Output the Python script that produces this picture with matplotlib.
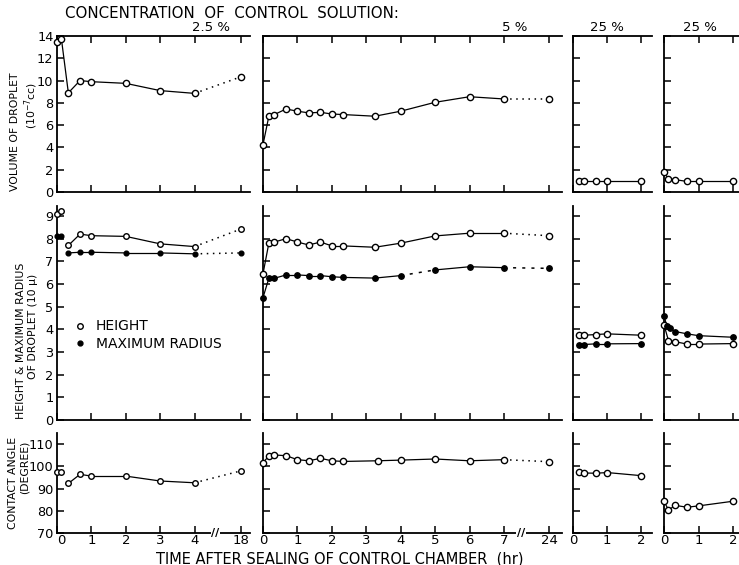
import matplotlib
matplotlib.use('Agg')
import matplotlib.pyplot as plt
import matplotlib.transforms as mtransforms
from matplotlib.lines import Line2D
import numpy as np

plt.rcParams['font.family'] = ['DejaVu Sans']

# ---------------- data ----------------
# Panel A: control solution 2.5 %  (time axis broken between 4 h and 18 h)
a_t = [0, 0.13, 0.33, 0.67, 1, 2, 3, 4, 18]
a_vol = [13.5, 13.7, 8.9, 10.0, 9.9, 9.75, 9.1, 8.85, 10.35]
a_height = [9.1, 9.2, 7.7, 8.2, 8.13, 8.1, 7.77, 7.65, 8.43]
a_radius = [8.1, 8.1, 7.37, 7.4, 7.4, 7.37, 7.37, 7.33, 7.37]
a_angle = [97.5, 97.5, 92.3, 96.4, 95.6, 95.6, 93.4, 92.6, 98.0]

# Panel B: control solution 5 %  (time axis broken between 7 h and 24 h)
b_t = [0, 0.17, 0.33, 0.67, 1, 1.33, 1.67, 2, 2.33, 3.25, 4, 5, 6, 7, 24]
b_vol = [4.25, 6.8, 6.95, 7.45, 7.25, 7.1, 7.15, 7.0, 6.95, 6.8, 7.25, 8.05, 8.55, 8.35, 8.35]
b_height = [6.45, 7.8, 7.85, 8.0, 7.85, 7.72, 7.85, 7.68, 7.68, 7.62, 7.8, 8.12, 8.24, 8.24, 8.13]
b_radius = [5.4, 6.25, 6.25, 6.4, 6.4, 6.37, 6.37, 6.32, 6.29, 6.26, 6.37, 6.62, 6.76, 6.72, 6.69]
b_angle_t = [0, 0.17, 0.33, 0.67, 1, 1.33, 1.67, 2, 2.33, 3.33, 4, 5, 6, 7, 24]
b_angle = [101.5, 104.8, 105.1, 104.8, 103.0, 102.5, 103.6, 102.5, 102.2, 102.5, 102.8, 103.3, 102.5, 103.0, 102.1]

# Panel C: control solution 25 %
c_t = [0.17, 0.33, 0.67, 1, 2]
c_vol = [0.95, 0.95, 0.95, 0.95, 0.95]
c_height = [3.74, 3.74, 3.77, 3.8, 3.74]
c_radius = [3.33, 3.33, 3.36, 3.36, 3.37]
c_angle = [97.3, 97.0, 96.9, 97.2, 95.8]

# Panel D: control solution 25 %
d_t = [0, 0.13, 0.33, 0.67, 1, 2]
d_vol = [1.8, 1.15, 1.1, 0.95, 0.95, 0.95]
d_height = [4.2, 3.5, 3.45, 3.35, 3.35, 3.37]
d_radius_t = [0, 0.08, 0.17, 0.33, 0.67, 1, 2]
d_radius = [4.6, 4.15, 4.05, 3.9, 3.8, 3.72, 3.65]
d_angle = [84.2, 80.4, 82.4, 81.6, 82.2, 84.3]

concentrations = ['2.5 %', '5 %', '25 %', '25 %']
a_xticks = [0, 1, 2, 3, 4, 18]
b_xticks = [0, 1, 2, 3, 4, 5, 6, 7, 24]
cd_xticks = [0, 1, 2]
vol_yticks = [0, 2, 4, 6, 8, 10, 12, 14]
hr_yticks = [0, 1, 2, 3, 4, 5, 6, 7, 8, 9]
ang_yticks = [70, 80, 90, 100, 110]

# ---------------- layout ----------------
W, H = 739, 565
fig = plt.figure(figsize=(W / 100, H / 100), dpi=100)

cols_px = [(57, 250), (263, 562), (573, 652), (664, 739)]
rows_px = [(36, 192), (206, 420), (433, 533)]


def add_ax(col, row):
    l, r = cols_px[col]
    t, b = rows_px[row]
    return fig.add_axes([l / W, 1 - b / H, (r - l) / W, (b - t) / H])


def broken_scale(last, k):
    def fwd(t):
        t = np.asarray(t, dtype=float)
        return np.where(t <= last, t, last + (t - last) * k)

    def inv(u):
        u = np.asarray(u, dtype=float)
        return np.where(u <= last, u, last + (u - last) / k)
    return fwd, inv


scaleA = broken_scale(4, 1.36 / 14)
scaleB = broken_scale(7, 1.31 / 17)
xlimA = (0, 20.6)
xlimB = (0, 28.9)

DOT = (0, (1, 3))
DASH = (0, (2, 4))


def draw(ax, t, y, filled, start=0, styles=None, ms=4.5):
    styles = styles or {}
    n = len(t)
    for i in range(start, n - 1):
        ls = styles.get(i, '-')
        lw = 1.1 if ls != '-' else 0.9
        ax.plot(t[i:i + 2], y[i:i + 2], color='black', lw=lw, linestyle=ls,
                clip_on=False, zorder=2)
    if filled:
        ax.plot(t, y, linestyle='none', marker='o', mfc='black', mec='black',
                ms=ms - 0.6, clip_on=False, zorder=3)
    else:
        ax.plot(t, y, linestyle='none', marker='o', mfc='white', mec='black',
                mew=1.0, ms=ms, clip_on=False, zorder=3)


axes = [[add_ax(c, r) for c in range(4)] for r in range(3)]

for r in range(3):
    for c in range(4):
        ax = axes[r][c]
        if c == 0:
            ax.set_xscale('function', functions=scaleA)
            ax.set_xlim(*xlimA)
            ax.set_xticks(a_xticks)
        elif c == 1:
            ax.set_xscale('function', functions=scaleB)
            ax.set_xlim(*xlimB)
            ax.set_xticks(b_xticks)
        elif c == 2:
            ax.set_xlim(0, 2.31)
            ax.set_xticks(cd_xticks)
        else:
            ax.set_xlim(0, 2.17)
            ax.set_xticks(cd_xticks)
        ax.xaxis.set_minor_locator(matplotlib.ticker.NullLocator())
        if r == 0:
            ax.set_ylim(0, 14)
            ax.set_yticks(vol_yticks)
        elif r == 1:
            ax.set_ylim(0, 9.44)
            ax.set_yticks(hr_yticks)
        else:
            ax.set_ylim(70, 115)
            ax.set_yticks(ang_yticks)
        ax.spines['right'].set_visible(False)
        ax.spines['top'].set_visible(r == 0)
        for s in ax.spines.values():
            s.set_linewidth(1.3)
        ax.tick_params(direction='in', length=5, width=1.1,
                       top=(r == 0), right=False,
                       labelbottom=(r == 2), labelleft=(c == 0))
        ax.tick_params(axis='x', labelsize=9.5, pad=1.0)
        ax.tick_params(axis='y', labelsize=9.3, pad=2.5)
        ax.patch.set_alpha(0)

# keep the first time label of panel A clear of the "70" angle label
fig.canvas.draw()
axes[2][0].get_xticklabels()[0].set_horizontalalignment('left')

# Row 0: volume
draw(axes[0][0], a_t, a_vol, False, styles={7: DOT})
draw(axes[0][1], b_t, b_vol, False, styles={13: DOT})
draw(axes[0][2], c_t, c_vol, False)
draw(axes[0][3], d_t, d_vol, False)

# Row 1: height (open) & maximum radius (filled)
draw(axes[1][0], a_t, a_height, False, start=2, styles={7: DOT}, ms=4.0)
draw(axes[1][0], a_t, a_radius, True, start=2, styles={7: DOT}, ms=4.0)
draw(axes[1][1], b_t, b_height, False, styles={13: DOT})
draw(axes[1][1], b_t, b_radius, True, styles={10: DASH, 13: DASH})
draw(axes[1][2], c_t, c_height, False)
draw(axes[1][2], c_t, c_radius, True)
draw(axes[1][3], d_t, d_height, False)
draw(axes[1][3], d_radius_t, d_radius, True)

# Row 2: contact angle
draw(axes[2][0], a_t, a_angle, False, start=2, styles={7: DOT}, ms=4.0)
draw(axes[2][1], b_angle_t, b_angle, False, styles={13: DOT})
draw(axes[2][2], c_t, c_angle, False)
draw(axes[2][3], d_t, d_angle, False)

# break marks on the bottom time axes
for ax, tb in ((axes[2][0], 10.2), (axes[2][1], 13.5)):
    trans = mtransforms.blended_transform_factory(ax.transData, ax.transAxes)
    ax.text(tb, 0.0, '//', transform=trans, ha='center', va='center',
            fontsize=8, fontweight='bold', clip_on=False,
            bbox=dict(boxstyle='square,pad=0.05', fc='white', ec='none'))

# legend
handles = [Line2D([], [], ls='none', marker='o', mfc='white', mec='black', ms=4),
           Line2D([], [], ls='none', marker='o', mfc='black', mec='black', ms=3.5)]
axes[1][0].legend(handles, ['HEIGHT', 'MAXIMUM RADIUS'], loc='upper left',
                  bbox_to_anchor=(0.085, 0.47), frameon=False, fontsize=10,
                  handlelength=1.0, handletextpad=0.6, labelspacing=0.25,
                  borderpad=0, borderaxespad=0)

# concentration headings
fig.text(65 / W, 1 - 13 / H, 'CONCENTRATION  OF  CONTROL  SOLUTION:',
         fontsize=10.8, ha='left', va='center')
for xc, lab in zip((211, 515, 607, 700), concentrations):
    fig.text(xc / W, 1 - 34 / H, lab, fontsize=9.5, ha='center', va='bottom')

# y-axis labels
ylabels = [((15, 132), 'VOLUME OF DROPLET'), ((31, 106), '(10$^{-7}$cc)'),
           ((21, 341), 'HEIGHT & MAXIMUM RADIUS'), ((33, 326), 'OF DROPLET (10 μ)'),
           ((13, 483), 'CONTACT ANGLE'), ((25, 467), '(DEGREE)')]
for (x, y), lab in ylabels:
    fig.text(x / W, 1 - y / H, lab, rotation=90, fontsize=7.8,
             ha='center', va='center')

# x-axis label
fig.text(340 / W, 1 - 558.5 / H, 'TIME AFTER SEALING OF CONTROL CHAMBER  (hr)',
         fontsize=10.5, ha='center', va='center')

fig.savefig('out.png', dpi=100)
